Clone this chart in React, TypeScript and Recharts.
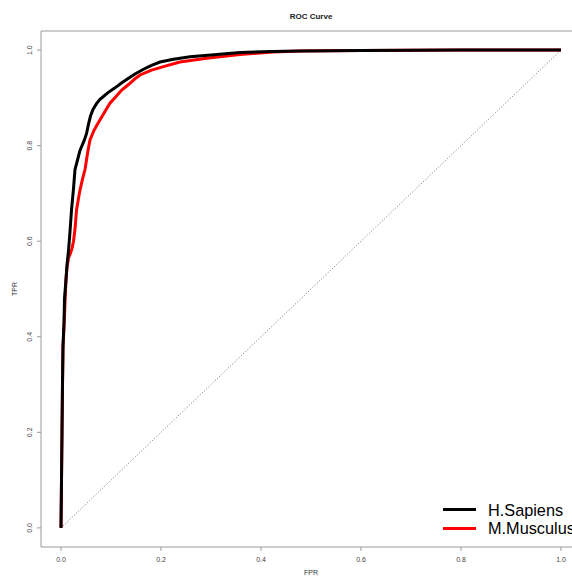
import React from "react";
import {
  LineChart,
  Line,
  XAxis,
  YAxis,
  ReferenceArea,
  Customized,
} from "recharts";

const title = "ROC Curve";
const xLabel = "FPR";
const yLabel = "TPR";
const axisTicks = [0, 0.2, 0.4, 0.6, 0.8, 1.0];
const seriesNames = ["H.Sapiens", "M.Musculus"];
const seriesColors = ["#000000", "#ff0000"];

const sapiensFpr = [0, 0.001, 0.002, 0.003, 0.004, 0.006, 0.007, 0.01, 0.012, 0.015, 0.018, 0.021, 0.025, 0.028, 0.033, 0.038, 0.046, 0.051, 0.055, 0.059, 0.064, 0.071, 0.078, 0.086, 0.094, 0.108, 0.121, 0.135, 0.148, 0.165, 0.181, 0.198, 0.225, 0.258, 0.3, 0.358, 0.42, 0.478, 0.6, 0.8, 1.0];
const sapiensTpr = [0, 0.1, 0.2, 0.3, 0.38, 0.43, 0.48, 0.52, 0.55, 0.58, 0.62, 0.665, 0.71, 0.75, 0.77, 0.79, 0.81, 0.825, 0.845, 0.862, 0.876, 0.888, 0.897, 0.904, 0.911, 0.921, 0.931, 0.941, 0.95, 0.96, 0.968, 0.975, 0.981, 0.986, 0.99, 0.995, 0.997, 0.998, 0.999, 1.0, 1.0];

const musculusFpr = [0, 0.001, 0.002, 0.003, 0.004, 0.006, 0.008, 0.01, 0.012, 0.015, 0.019, 0.022, 0.025, 0.028, 0.031, 0.035, 0.038, 0.043, 0.048, 0.051, 0.054, 0.058, 0.066, 0.074, 0.082, 0.09, 0.098, 0.11, 0.121, 0.135, 0.148, 0.158, 0.181, 0.21, 0.238, 0.291, 0.358, 0.424, 0.478, 0.6, 0.8, 1.0];
const musculusTpr = [0, 0.1, 0.2, 0.3, 0.38, 0.42, 0.47, 0.52, 0.545, 0.565, 0.575, 0.585, 0.6, 0.625, 0.665, 0.69, 0.707, 0.73, 0.75, 0.77, 0.79, 0.812, 0.832, 0.847, 0.861, 0.875, 0.889, 0.903, 0.916, 0.928, 0.94, 0.948, 0.958, 0.967, 0.975, 0.983, 0.991, 0.996, 0.998, 0.999, 1.0, 1.0];

const diagonalFpr = [0, 1];
const diagonalTpr = [0, 1];

const toRows = (xs: number[], ys: number[]) => xs.map((x, i) => ({ fpr: x, tpr: ys[i] }));

const sapiensData = toRows(sapiensFpr, sapiensTpr);
const musculusData = toRows(musculusFpr, musculusTpr);
const diagonalData = toRows(diagonalFpr, diagonalTpr);

const FONT = "'Liberation Sans', Arial, Helvetica, sans-serif";
const FRAME = "#9a9a9a";
const TICKTXT = "#444";

const XTick = (props: any) => {
  const { x, y, payload } = props;
  return (
    <text x={x} y={y + 10.5} textAnchor="middle" fontSize={7} fill={TICKTXT} fontFamily={FONT}>
      {Number(payload.value).toFixed(1)}
    </text>
  );
};

const YTick = (props: any) => {
  const { x, y, payload } = props;
  const bx = x - 5;
  return (
    <text
      x={bx}
      y={y}
      textAnchor="middle"
      fontSize={7}
      fill={TICKTXT}
      fontFamily={FONT}
      transform={`rotate(-90, ${bx}, ${y})`}
    >
      {Number(payload.value).toFixed(1)}
    </text>
  );
};

const Extras = (props: any) => {
  const ox = props.offset ? props.offset.left : 41;
  const ow = props.offset ? props.offset.width : 540;
  const cx = ox + ow / 2;
  return (
    <g>
      <text x={cx} y={19} textAnchor="middle" fontSize={8} fontWeight="bold" fill="#222" fontFamily={FONT}>
        {title}
      </text>
      <text x={cx} y={575} textAnchor="middle" fontSize={7} fill="#333" fontFamily={FONT}>
        {xLabel}
      </text>
      <text
        x={16.5}
        y={289}
        textAnchor="middle"
        fontSize={7}
        fill="#333"
        fontFamily={FONT}
        transform={`rotate(-90, 16.5, 289)`}
      >
        {yLabel}
      </text>
      {seriesNames.map((n, i) => (
        <g key={n}>
          <line x1={443} x2={476} y1={509.5 + i * 19} y2={509.5 + i * 19} stroke={seriesColors[i]} strokeWidth={3.2} />
          <text x={488} y={516 + i * 18} fontSize={16.3} fill="#000" fontFamily={FONT}>
            {n}
          </text>
        </g>
      ))}
    </g>
  );
};

export default function App() {
  return (
    <div style={{ position: "absolute", left: 0, top: 0, width: 572, height: 577, overflow: "hidden", background: "#fff" }}>
      <LineChart width={600} height={577} margin={{ top: 31, right: 19, bottom: 0, left: 0 }}>
        <XAxis
          type="number"
          dataKey="fpr"
          domain={[-0.04, 1.04]}
          ticks={axisTicks}
          allowDataOverflow
          height={30}
          axisLine={false}
          tickLine={{ stroke: FRAME }}
          tickSize={4}
          tickMargin={0}
          tick={<XTick />}
        />
        <YAxis
          type="number"
          dataKey="tpr"
          domain={[-0.04, 1.04]}
          ticks={axisTicks}
          allowDataOverflow
          width={41}
          axisLine={false}
          tickLine={{ stroke: FRAME }}
          tickSize={4}
          tickMargin={0}
          tick={<YTick />}
        />
        <ReferenceArea x1={-0.04} x2={1.04} y1={-0.04} y2={1.04} fill="none" fillOpacity={0} stroke={FRAME} strokeWidth={1} ifOverflow="visible" />
        <Line
          data={diagonalData}
          dataKey="tpr"
          type="linear"
          stroke="#707070"
          strokeWidth={1}
          strokeDasharray="1 2"
          dot={false}
          isAnimationActive={false}
        />
        <Line
          data={musculusData}
          dataKey="tpr"
          name={seriesNames[1]}
          type="linear"
          stroke={seriesColors[1]}
          strokeWidth={3}
          dot={false}
          isAnimationActive={false}
        />
        <Line
          data={sapiensData}
          dataKey="tpr"
          name={seriesNames[0]}
          type="linear"
          stroke={seriesColors[0]}
          strokeWidth={3}
          dot={false}
          isAnimationActive={false}
        />
        <Customized component={Extras} />
      </LineChart>
    </div>
  );
}
